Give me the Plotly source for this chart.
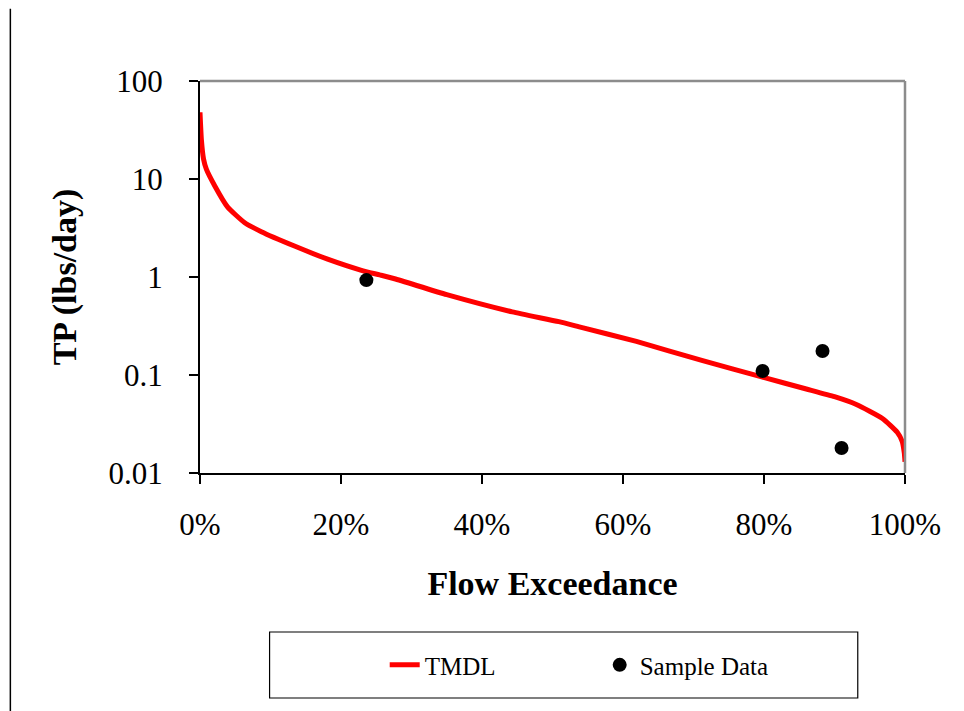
import plotly.graph_objects as go

# TMDL load duration curve (flow exceedance %, TP lbs/day)
tmdl_x = [0, 0.2, 0.5, 0.9, 2.1, 3.9, 6.3, 8.7, 13.4, 18.1, 22.9, 25.5, 27.6, 35.0,
          44.3, 50.9, 53.8, 61.9, 71.3, 79.8, 86.0, 90.0, 93.1, 96.8, 98.9, 99.6, 99.9, 100]
tmdl_y = [48, 25, 16, 12.6, 8.5, 5.2, 3.6, 2.9, 2.07, 1.52, 1.17, 1.05, 0.96, 0.66,
          0.44, 0.35, 0.31, 0.22, 0.14, 0.095, 0.072, 0.06, 0.05, 0.036, 0.026, 0.021, 0.016, 0.013]

# Sample data
sample_x = [23.6, 79.8, 88.3, 91.0]
sample_y = [0.93, 0.11, 0.176, 0.018]

y_tickvals = [0.01, 0.1, 1, 10, 100]
y_ticktext = ["0.01", "0.1", "1", "10", "100"]
x_tickvals = [0, 20, 40, 60, 80, 100]
x_ticktext = ["0%", "20%", "40%", "60%", "80%", "100%"]

FONT = "Liberation Serif"

fig = go.Figure()
fig.add_trace(go.Scatter(x=tmdl_x, y=tmdl_y, mode="lines", name="TMDL",
                         line=dict(color="#ff0000", width=5, shape="spline", smoothing=0.5)))
fig.add_trace(go.Scatter(x=sample_x, y=sample_y, mode="markers", name="Sample Data",
                         marker=dict(color="black", size=14, symbol="circle")))

fig.update_layout(
    width=956, height=703,
    margin=dict(l=192, r=59, t=73, b=238),
    paper_bgcolor="white", plot_bgcolor="white",
    font=dict(family=FONT, color="black"),
    showlegend=True,
    legend=dict(orientation="h", x=0.262, xanchor="left", y=-0.49, yanchor="middle",
                bgcolor="rgba(0,0,0,0)", borderwidth=0,
                font=dict(family=FONT, size=25, color="black"),
                entrywidth=170, entrywidthmode="pixels"),
    xaxis=dict(range=[0, 100], tickvals=x_tickvals, ticktext=x_ticktext,
               showgrid=False, zeroline=False, showline=True, linecolor="black", linewidth=2,
               ticks="outside", ticklen=9, tickwidth=1.5, tickcolor="black",
               tickfont=dict(family=FONT, size=31), ticklabelstandoff=14,
               title=dict(text="<b>Flow Exceedance</b>", font=dict(family=FONT, size=34), standoff=30)),
    yaxis=dict(type="log", range=[-2, 2], tickvals=y_tickvals, ticktext=y_ticktext,
               showgrid=False, zeroline=False, showline=True, linecolor="black", linewidth=2,
               ticks="outside", ticklen=9, tickwidth=1.5, tickcolor="black",
               tickfont=dict(family=FONT, size=31), ticklabelstandoff=20,
               title=dict(text="<b>TP (lbs/day)</b>", font=dict(family=FONT, size=34), standoff=22)),
    shapes=[
        # gray top and right frame
        dict(type="line", xref="paper", yref="paper", x0=0, x1=1, y0=1, y1=1,
             line=dict(color="#8c8c8c", width=2.5)),
        dict(type="line", xref="paper", yref="paper", x0=1, x1=1, y0=0, y1=1,
             line=dict(color="#8c8c8c", width=2.5)),
        # left page rule
        dict(type="line", xref="paper", yref="paper", x0=-0.269, x1=-0.269, y0=1.184, y1=-0.62,
             line=dict(color="black", width=1.5)),
        # legend box
        dict(type="rect", xref="paper", yref="paper", x0=0.0987, x1=0.933, y0=-0.4056, y1=-0.574,
             line=dict(color="black", width=1.2), fillcolor="rgba(0,0,0,0)"),
    ],
)

fig.write_html("out.html")
